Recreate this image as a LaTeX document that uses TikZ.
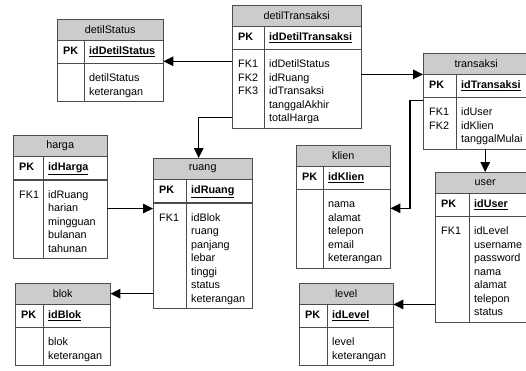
\documentclass[tikz,border=0pt]{standalone}
\usepackage{fontspec}
\setmainfont{Liberation Sans}
\usetikzlibrary{arrows.meta}
\newcommand{\keycells}[3]{\begin{tabular}{@{}p{#1}@{}l@{}}\textbf{#2} & \textbf{\underline{#3}}\end{tabular}}
\newcommand{\attrcells}[2]{\begin{tabular}{@{}p{#1}@{}l@{}}\noalign{\vskip 7pt}#2\end{tabular}}
\begin{document}
\begin{tikzpicture}[
        x=1pt, y=-1pt,
        font=\fontsize{10.8}{13.5}\selectfont,
        head/.style={
        draw=black!70,
        fill=black!20,
        minimum height=21pt,
        inner sep=0pt,
        anchor=north west,
        },
        tablerow/.style={
        draw=black!70,
        anchor=north west,
        inner xsep=6pt,
        align=left,
        },
        keyrow/.style={tablerow, inner ysep=4.5pt},
        body/.style={tablerow, inner ysep=2pt},
        divider/.style={draw=black!70},
        fk/.style={-{Triangle[width=9.5pt,length=10pt]}, line width=1.3pt},
      ]
        \useasboundingbox (0, 0) rectangle (526, 370);

        \node[head, minimum width=106pt] (ds) at (57, 19) {detilStatus};
        \node[keyrow, text width=94pt] (dsK) at (ds.south west) {\keycells{26pt}{PK}{idDetilStatus}};
        \node[body, text width=94pt] (dsB) at (dsK.south west) {\attrcells{26pt}{& detilStatus\\ & keterangan}};
        \draw[divider] ([xshift=27pt]dsK.north west) -- ([xshift=27pt]dsB.south west);

        \node[head, minimum width=129pt] (dt) at (232, 5) {detilTransaksi};
        \node[keyrow, text width=117pt] (dtK) at (dt.south west) {\keycells{31pt}{PK}{idDetilTransaksi}};
        \node[body, text width=117pt] (dtB) at (dtK.south west) {\attrcells{31pt}{FK1 & idDetilStatus\\ FK2 & idRuang\\ FK3 & idTransaksi\\ & tanggalAkhir\\ & totalHarga}};
        \draw[divider] ([xshift=32pt]dtK.north west) -- ([xshift=32pt]dtB.south west);

        \node[head, minimum width=106pt] (tr) at (423, 53) {transaksi};
        \node[keyrow, text width=94pt] (trK) at (tr.south west) {\keycells{32pt}{PK}{idTransaksi}};
        \node[body, text width=94pt] (trB) at (trK.south west) {\attrcells{32pt}{FK1 & idUser\\ FK2 & idKlien\\ & tanggalMulai}};
        \draw[divider] ([xshift=33pt]trK.north west) -- ([xshift=33pt]trB.south west);

        \node[head, minimum width=94pt] (ha) at (13, 135) {harga};
        \node[keyrow, text width=82pt] (haK) at (ha.south west) {\keycells{29pt}{PK}{idHarga}};
        \node[body, text width=82pt] (haB) at (haK.south west) {\attrcells{29pt}{FK1 & idRuang\\ & harian\\ & mingguan\\ & bulanan\\ & tahunan}};
        \draw[divider] ([xshift=30pt]haK.north west) -- ([xshift=30pt]haB.south west);

        \node[head, minimum width=99pt] (ru) at (153, 158) {ruang};
        \node[keyrow, text width=87pt] (ruK) at (ru.south west) {\keycells{32pt}{PK}{idRuang}};
        \node[body, text width=87pt] (ruB) at (ruK.south west) {\attrcells{32pt}{FK1 & idBlok\\ & ruang\\ & panjang\\ & lebar\\ & tinggi\\ & status\\ & keterangan}};
        \draw[divider] ([xshift=33pt]ruK.north west) -- ([xshift=33pt]ruB.south west);

        \node[head, minimum width=94pt] (kl) at (296, 145) {klien};
        \node[keyrow, text width=82pt] (klK) at (kl.south west) {\keycells{26pt}{PK}{idKlien}};
        \node[body, text width=82pt] (klB) at (klK.south west) {\attrcells{26pt}{& nama\\ & alamat\\ & telepon\\ & email\\ & keterangan}};
        \draw[divider] ([xshift=27pt]klK.north west) -- ([xshift=27pt]klB.south west);

        \node[head, minimum width=100pt] (us) at (435, 172) {user};
        \node[keyrow, text width=88pt] (usK) at (us.south west) {\keycells{33pt}{PK}{idUser}};
        \node[body, text width=88pt] (usB) at (usK.south west) {\attrcells{33pt}{FK1 & idLevel\\ & username\\ & password\\ & nama\\ & alamat\\ & telepon\\ & status}};
        \draw[divider] ([xshift=34pt]usK.north west) -- ([xshift=34pt]usB.south west);

        \node[head, minimum width=95pt] (bl) at (15, 283) {blok};
        \node[keyrow, text width=83pt] (blK) at (bl.south west) {\keycells{27pt}{PK}{idBlok}};
        \node[body, text width=83pt] (blB) at (blK.south west) {\attrcells{27pt}{& blok\\ & keterangan}};
        \draw[divider] ([xshift=28pt]blK.north west) -- ([xshift=28pt]blB.south west);

        \node[head, minimum width=94pt] (lv) at (299, 283) {level};
        \node[keyrow, text width=82pt] (lvK) at (lv.south west) {\keycells{27pt}{PK}{idLevel}};
        \node[body, text width=82pt] (lvB) at (lvK.south west) {\attrcells{27pt}{& level\\ & keterangan}};
        \draw[divider] ([xshift=28pt]lvK.north west) -- ([xshift=28pt]lvB.south west);

        \draw[fk] ([yshift=2pt]dtB.west |- dsK.south east) -- ([yshift=2pt]dsK.south east);
        \draw[fk] ([yshift=11pt]dtB.south west) -| ([xshift=-4pt]ru.north);
        \draw[fk] (dtB.east |- tr.south west) -- (tr.south west);
        \draw[fk] ([yshift=-3pt]trB.north west) -- ++(-13, 0) |- ([yshift=-19pt]klB.north east);
        \draw[fk] (trB.south -| us.north) -- (us.north);
        \draw[fk] ([yshift=-6pt]haB.east |- ruB.north west) -- ([yshift=-6pt]ruB.north west);
        \draw[fk] (ruB.west |- bl.east) -- (bl.east);
        \draw[fk] (usB.west |- lv.south east) -- (lv.south east);
      \end{tikzpicture}
\end{document}
